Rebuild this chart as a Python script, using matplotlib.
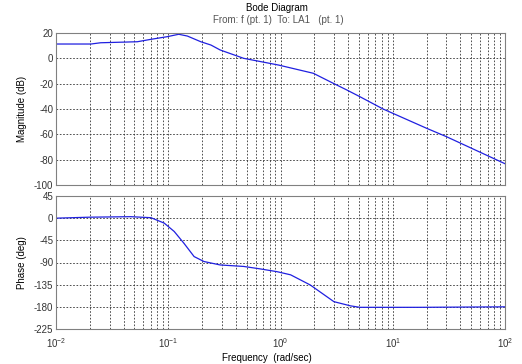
import numpy as np
import matplotlib
matplotlib.use("Agg")
import matplotlib.pyplot as plt
from matplotlib.ticker import LogLocator, NullFormatter

plt.rcParams['font.family'] = ['Liberation Sans', 'DejaVu Sans']
plt.rcParams['axes.unicode_minus'] = False

# magnitude data (rad/sec, dB)
mag_freq = [0.01, 0.0205, 0.025, 0.053, 0.07, 0.098, 0.124, 0.148, 0.195, 0.24, 0.29,
            0.47, 0.96, 1.96, 2.95, 3.9, 5.1, 8.2, 20, 30, 100]
mag_db = [11.3, 11.3, 12.3, 13.1, 15.0, 17.1, 19.0, 17.6, 13.1, 10.5, 6.6,
          0.0, -5.3, -11.8, -19.7, -25.0, -30.3, -40.0, -55.2, -61.8, -83.2]

# phase data (rad/sec, deg)
ph_freq = [0.01, 0.02, 0.0464, 0.07, 0.092, 0.113, 0.138, 0.17, 0.208, 0.29, 0.47, 0.66,
           0.93, 1.23, 1.84, 2.99, 4.2, 5.1, 17.4, 100]
ph_deg = [0, 2, 3, 1, -10, -27, -51, -78, -88, -95, -98, -103,
          -108.6, -115, -135.6, -169.5, -178, -181, -181, -180]

mag_ticks = [20, 0, -20, -40, -60, -80, -100]
ph_ticks = [45, 0, -45, -90, -135, -180, -225]

W, H = 522, 364
fig = plt.figure(figsize=(W / 100, H / 100), dpi=100)
ax1 = fig.add_axes([56 / W, 1 - 185 / H, (505 - 56) / W, (185 - 33) / H])
ax2 = fig.add_axes([56 / W, 1 - 329 / H, (505 - 56) / W, (329 - 196) / H])

line_col = '#2020e0'
fs = 7
for ax in (ax1, ax2):
    ax.set_xscale('log')
    ax.set_xlim(0.01, 100)
    ax.xaxis.set_major_locator(LogLocator(base=10, numticks=10))
    ax.xaxis.set_minor_locator(LogLocator(base=10, subs=np.arange(2, 10), numticks=50))
    ax.xaxis.set_minor_formatter(NullFormatter())
    ax.grid(True, which='major', linestyle=(0, (2, 2)), color='#333333', linewidth=0.6)
    ax.grid(True, which='minor', axis='x', linestyle=(0, (2, 2)), color='#333333', linewidth=0.6)
    for s in ax.spines.values():
        s.set_color('#808080')
        s.set_linewidth(0.8)
    ax.tick_params(which='both', direction='in', length=0, labelsize=fs, colors='#333333', pad=2)

ax1.plot(mag_freq, mag_db, color=line_col, linewidth=0.9)
ax1.set_ylim(-100, 20)
ax1.set_yticks(mag_ticks)
ax1.tick_params(axis='x', labelbottom=False)
ax1.set_ylabel('Magnitude (dB)', fontsize=fs, labelpad=5)

ax2.plot(ph_freq, ph_deg, color=line_col, linewidth=0.9)
ax2.set_ylim(-225, 45)
ax2.set_yticks(ph_ticks)
ax2.set_ylabel('Phase (deg)', fontsize=fs, labelpad=5)
ax2.tick_params(axis='x', pad=5)

fig.text(277 / W, 1 - 8 / H, 'Bode Diagram', ha='center', va='center', fontsize=fs, color='black')
fig.text(278 / W, 1 - 20 / H, 'From: f (pt. 1)  To: LA1   (pt. 1)', ha='center', va='center', fontsize=fs, color='#555555')
fig.text(267 / W, 1 - 358 / H, 'Frequency  (rad/sec)', ha='center', va='center', fontsize=fs, color='black')

fig.savefig('out.png', dpi=100)
